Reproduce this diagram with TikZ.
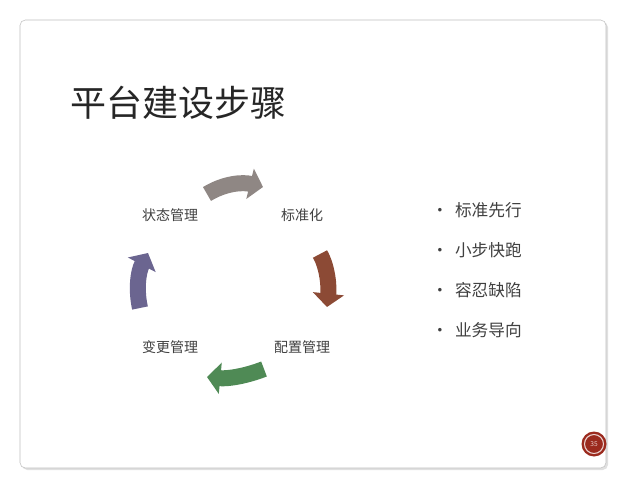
\documentclass[tikz,border=0pt]{standalone}
\usepackage{fontspec}
\setmainfont{Noto Sans CJK SC}
\usetikzlibrary{arrows.meta}
\definecolor{cgray}{HTML}{8F8784}
\definecolor{cbrown}{HTML}{8C4A35}
\definecolor{cgreen}{HTML}{4F8A55}
\definecolor{cpurple}{HTML}{6B6590}
\definecolor{cbadge}{HTML}{9B2A1E}
\definecolor{ctext}{HTML}{404040}
\begin{document}
\begin{tikzpicture}[x=0.75pt,y=-0.75pt,
  cyc/.style={line width=12pt,-{Triangle[width=23pt,length=10pt]}},
  lbl/.style={font=\fontsize{10.5pt}{12pt}\selectfont,text=ctext},
  bul/.style={font=\fontsize{12.5pt}{14pt}\selectfont,text=ctext,anchor=west}]
\useasboundingbox (0,0) rectangle (640,489);
\fill[white] (0,0) rectangle (640,489);
\fill[black!12,rounded corners=4pt] (22,22) rectangle (608,470);
\draw[black!25,fill=white,rounded corners=4pt] (20,20) rectangle (606,468);
\node[anchor=west,font=\fontsize{27pt}{32pt}\selectfont,text=black!85] (title) at (66,103) {平台建设步骤};
\node[lbl] (s) at (170,215) {状态管理};
\node[lbl] (b) at (302,215) {标准化};
\node[lbl] (p) at (302,347) {配置管理};
\node[lbl] (c) at (170,347) {变更管理};
\coordinate (a1) at (207,194); \coordinate (a2) at (263,187);
\coordinate (b1) at (320,254); \coordinate (b2) at (327,307);
\coordinate (c1) at (264,369); \coordinate (c2) at (207,377);
\coordinate (d1) at (140,308); \coordinate (d2) at (148,253);
\draw[cyc,cgray] (a1) .. controls (225,183) and (243,182) .. (a2);
\draw[cyc,cbrown] (b1) .. controls (328,268) and (329,288) .. (b2);
\draw[cyc,cgreen] (c1) .. controls (246,376) and (228,379) .. (c2);
\draw[cyc,cpurple] (d1) .. controls (136,290) and (138,272) .. (d2);
\foreach \t/\y/\n in {标准先行/210/i1,小步快跑/250/i2,容忍缺陷/290/i3,业务导向/330/i4}{
  \node[bul] (\n) at (427,\y) {•\hspace{5pt}\t};
}
\fill[cbadge] (594,444) circle (12.5);
\draw[white!80!cbadge,line width=0.8pt] (594,444) circle (9.5);
\node[font=\fontsize{5pt}{6pt}\selectfont,text=white!75!cbadge] (pg) at (594,444) {35};
\end{tikzpicture}
\end{document}
